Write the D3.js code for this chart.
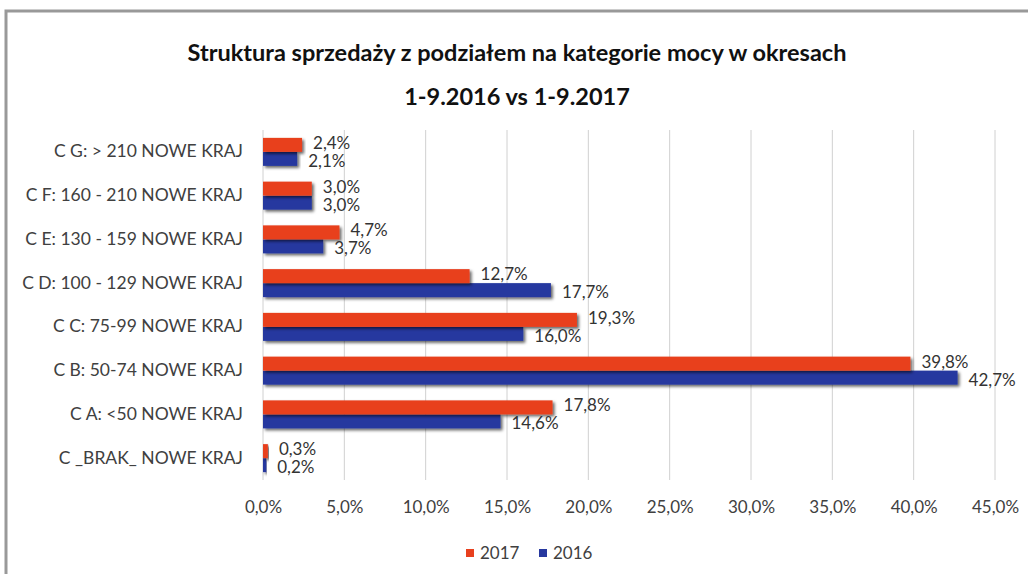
<!DOCTYPE html>
<html>
<head>
<meta charset="utf-8">
<script src="https://cdn.jsdelivr.net/npm/d3@7"></script>
<style>
  html, body { margin: 0; padding: 0; background: #fff; }
  svg { display: block; font-family: Lato, "Open Sans", sans-serif; }
</style>
</head>
<body>
<div class="chart"></div>
<script>
'use strict';

const categories = [
  'C G: > 210 NOWE KRAJ',
  'C F: 160 - 210 NOWE KRAJ',
  'C E: 130 - 159 NOWE KRAJ',
  'C D: 100 - 129 NOWE KRAJ',
  'C C: 75-99 NOWE KRAJ',
  'C B: 50-74 NOWE KRAJ',
  'C A: <50 NOWE KRAJ',
  'C _BRAK_ NOWE KRAJ'
];
const values2017 = [2.4, 3.0, 4.7, 12.7, 19.3, 39.8, 17.8, 0.3];
const values2016 = [2.1, 3.0, 3.7, 17.7, 16.0, 42.7, 14.6, 0.2];
const seriesNames = ['2017', '2016'];
const seriesColors = ['#e8401e', '#27389f'];
const xTicks = [0, 5, 10, 15, 20, 25, 30, 35, 40, 45];
const titleLines = [
  'Struktura sprzedaży z podziałem na kategorie mocy w okresach',
  '1-9.2016 vs 1-9.2017'
];

const WIDTH = 1028;
const HEIGHT = 574;
const margin = {top: 130, right: 33, bottom: 94, left: 263};

const fmt = (v) => v.toFixed(1).replace('.', ',') + '%';

const svg = d3.select('.chart')
  .append('svg')
    .attr('width', WIDTH)
    .attr('height', HEIGHT);

const defs = svg.append('defs');
const shadow = defs.append('filter')
    .attr('id', 'shadow')
    .attr('x', '-5%').attr('y', '-30%')
    .attr('width', '115%').attr('height', '180%');
shadow.append('feDropShadow')
    .attr('dx', 2).attr('dy', 2)
    .attr('stdDeviation', 1.6)
    .attr('flood-color', '#000')
    .attr('flood-opacity', 0.6);

// frame
svg.append('path')
    .attr('d', `M6,${HEIGHT} V11 H${WIDTH}`)
    .attr('fill', 'none')
    .attr('stroke', '#999')
    .attr('stroke-width', 3);

// title
svg.append('g')
  .selectAll('text')
  .data(titleLines)
  .enter().append('text')
    .attr('x', 517)
    .attr('y', (d, i) => 61 + i * 44)
    .attr('text-anchor', 'middle')
    .attr('font-size', 23.5)
    .attr('font-weight', 'bold')
    .attr('fill', '#111')
    .text(d => d);

const x = d3.scaleLinear()
    .domain([0, 45])
    .range([margin.left, WIDTH - margin.right]);

const y = d3.scaleBand()
    .domain(categories)
    .range([margin.top, HEIGHT - margin.bottom])
    .paddingInner(0.36)
    .paddingOuter(0.18);

const ySub = d3.scaleBand()
    .domain(seriesNames)
    .range([0, y.bandwidth()]);

// grid
svg.append('g')
  .selectAll('line')
  .data(xTicks)
  .enter().append('line')
    .attr('x1', d => x(d)).attr('x2', d => x(d))
    .attr('y1', margin.top).attr('y2', HEIGHT - margin.bottom)
    .attr('stroke', '#d0d0d0')
    .attr('stroke-width', 1);

// x axis labels
const xAxis = svg.append('g')
    .attr('transform', `translate(0,${HEIGHT - margin.bottom})`)
    .call(d3.axisBottom(x).tickValues(xTicks).tickFormat(fmt).tickSize(0).tickPadding(21));
xAxis.select('.domain').remove();
xAxis.selectAll('text')
    .attr('font-family', 'Lato, sans-serif')
    .attr('font-size', 17)
    .attr('fill', '#404040');

// y axis labels
const yAxis = svg.append('g')
    .attr('transform', `translate(${margin.left},0)`)
    .call(d3.axisLeft(y).tickSize(0).tickPadding(20));
yAxis.select('.domain').remove();
yAxis.selectAll('text')
    .attr('font-family', 'Lato, sans-serif')
    .attr('font-size', 17.5)
    .attr('fill', '#404040');

const rows = categories.map((c, i) => ({
  cat: c,
  vals: [
    {series: '2017', value: values2017[i], color: seriesColors[0]},
    {series: '2016', value: values2016[i], color: seriesColors[1]}
  ]
}));

const group = svg.append('g')
  .selectAll('g')
  .data(rows)
  .enter().append('g')
    .attr('transform', d => `translate(0,${y(d.cat)})`);

// blue first so the red shadow lies on top of it
group.selectAll('rect')
  .data(d => d.vals.slice().reverse())
  .enter().append('rect')
    .attr('x', x(0))
    .attr('y', d => ySub(d.series))
    .attr('width', d => Math.max(1.5, x(d.value) - x(0)))
    .attr('height', ySub.bandwidth())
    .attr('fill', d => d.color)
    .attr('filter', 'url(#shadow)');

group.selectAll('text')
  .data(d => d.vals)
  .enter().append('text')
    .attr('x', d => x(d.value) + 11)
    .attr('y', d => ySub(d.series) + ySub.bandwidth() / 2 + (d.series === '2017' ? -2 : 2))
    .attr('dy', '0.35em')
    .attr('font-size', 17)
    .attr('fill', '#333')
    .text(d => fmt(d.value));

// legend
const legend = svg.append('g')
    .attr('transform', 'translate(466,553)');
const item = legend.selectAll('g')
  .data(seriesNames)
  .enter().append('g')
    .attr('transform', (d, i) => `translate(${i * 73},0)`);
item.append('rect')
    .attr('x', 0).attr('y', -4)
    .attr('width', 8).attr('height', 8)
    .attr('fill', (d, i) => seriesColors[i]);
item.append('text')
    .attr('x', 14)
    .attr('dy', '0.35em')
    .attr('font-size', 17)
    .attr('fill', '#404040')
    .text(d => d);
</script>
</body>
</html>
